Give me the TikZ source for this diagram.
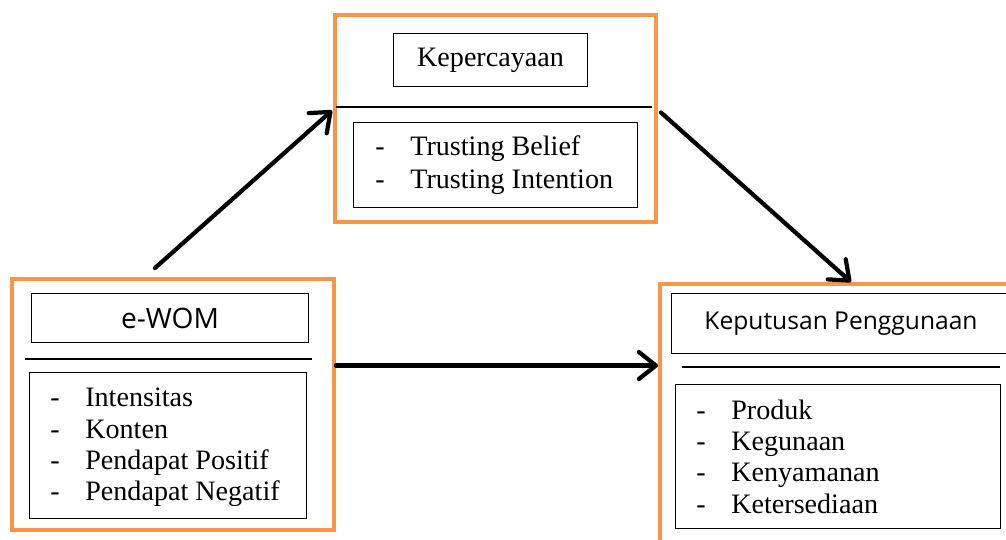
\documentclass[tikz,border=0pt]{standalone}
\usepackage{fontspec}
\setmainfont{Liberation Serif}
\newfontfamily\headsans{Open Sans}
\usetikzlibrary{arrows.meta}
\definecolor{boxorange}{RGB}{247,150,70}

\newcommand{\itm}[1]{\makebox[0.7cm][l]{-}#1}

\tikzset{
  outerbox/.style={draw=boxorange, line width=2.3pt, anchor=north west, inner sep=0pt},
  titlebox/.style={draw, line width=0.6pt, anchor=north west, inner sep=0pt},
  listbox/.style={draw, line width=0.6pt, anchor=north west, inner sep=0pt},
  items/.style={anchor=west, align=left, inner sep=0pt, font=\fontsize{16}{17.8}\selectfont},
  sepline/.style={line width=1pt},
  link/.style={line width=2.4pt, line cap=round,
    -{Straight Barb[length=0.34cm, width=0.54cm, round]}},
}

\begin{document}
\begin{tikzpicture}[x=0.02cm, y=-0.02cm]
  \useasboundingbox (0,0) rectangle (1006,539);
  \clip (0,0) rectangle (1006,539);
  % e-WOM (left)
  \node[outerbox, minimum width=6.44cm, minimum height=5.02cm] (ewom) at (10,277) {};
  \node[titlebox, minimum width=5.54cm, minimum height=0.98cm,
        font=\headsans\fontsize{16}{18}\selectfont] (ewomtitle) at (31,293) {e-WOM};
  \draw[sepline] (25,359) -- (312,359);
  \node[listbox, minimum width=5.54cm, minimum height=2.92cm] (ewomlist) at (29,372) {};
  \node[items] (ewomitems) at ([shift={(21,2)}]ewomlist.west)
    {\itm{Intensitas}\\ \itm{Konten}\\ \itm{Pendapat Positif}\\ \itm{Pendapat Negatif}};
  % Kepercayaan (top)
  \node[outerbox, minimum width=6.42cm, minimum height=4.14cm] (trust) at (333,13) {};
  \node[titlebox, minimum width=3.88cm, minimum height=1.06cm,
        font=\fontsize{16}{18}\selectfont] (trusttitle) at (393,33) {Kepercayaan};
  \draw[sepline, line width=1.6pt] (336,107) -- (652,107);
  \node[listbox, minimum width=5.68cm, minimum height=1.70cm] (trustlist) at (353,122) {};
  \node[items, font=\fontsize{16}{18.4}\selectfont] (trustitems) at ([shift={(22,0)}]trustlist.west)
    {\itm{Trusting Belief}\\ \itm{Trusting Intention}};
  % Keputusan Penggunaan (right, runs past the edge)
  \node[outerbox, minimum width=7.64cm, minimum height=5.76cm] (decision) at (658,282) {};
  \node[titlebox, minimum width=6.78cm, minimum height=1.2cm,
        font=\headsans\fontsize{14}{16}\selectfont] (decisiontitle) at (671,293) {Keputusan Penggunaan};
  \draw[sepline] (682,367) -- (1000,367);
  \node[listbox, minimum width=6.5cm, minimum height=2.88cm] (decisionlist) at (675,384) {};
  \node[items] (decisionitems) at ([shift={(21,0)}]decisionlist.west)
    {\itm{Produk}\\ \itm{Kegunaan}\\ \itm{Kenyamanan}\\ \itm{Ketersediaan}};
  % Arrows
  \coordinate (ewomout) at ([shift={(0,-39)}]ewom.east);
  \draw[link] ([shift={(-18,-9)}]ewom.north) -- ([shift={(-1,-8)}]trust.west);
  \draw[link] ([shift={(3,-6)}]trust.east) -- (decision.north);
  \draw[link] (ewomout) -- (ewomout -| decision.west);
\end{tikzpicture}
\end{document}
